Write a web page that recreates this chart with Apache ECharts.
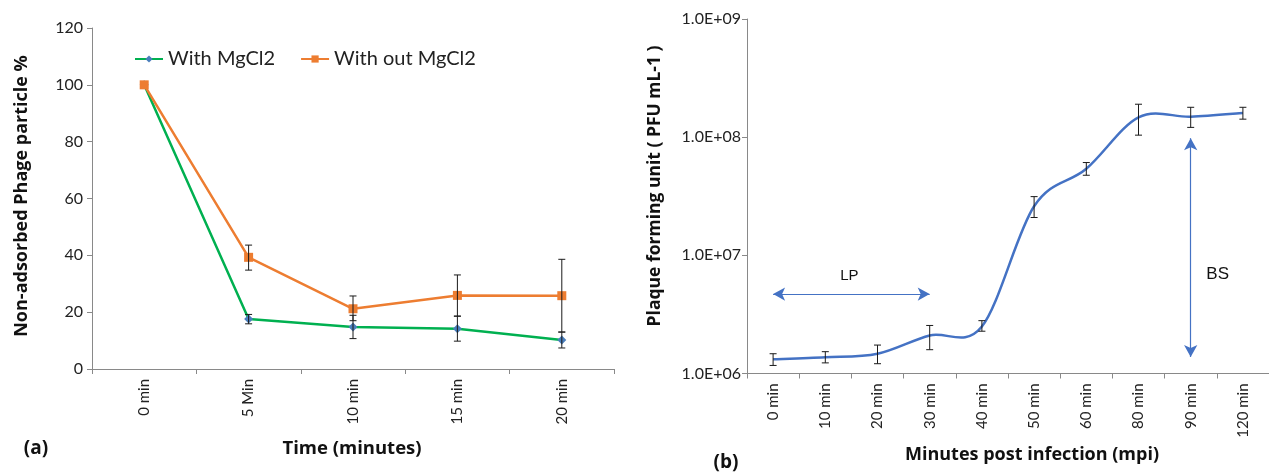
<!DOCTYPE html>
<html><head><meta charset="utf-8">
<script src="https://cdn.jsdelivr.net/npm/echarts@6/dist/echarts.min.js"></script>
<style>html,body{margin:0;padding:0;background:#fff}#c{width:1269px;height:475px}</style>
</head><body><div id="c"></div>
<script>
// Panel (a)
const categoriesA = ['0 min', '5 Min', '10 min', '15 min', '20 min'];
const withMg = [100, 17.6, 14.8, 14.2, 10.2];
const withMgLow = [null, 15.9, 10.7, 9.8, 7.4];
const withMgHigh = [null, 19.2, 18.9, 18.6, 13.0];
const withoutMg = [100, 39.3, 21.2, 25.9, 25.8];
const withoutMgLow = [null, 34.8, 17.0, 18.6, 13.0];
const withoutMgHigh = [null, 43.6, 25.7, 33.1, 38.6];
const yTicksA = [0, 20, 40, 60, 80, 100, 120];

// Panel (b)
const categoriesB = ['0 min', '10 min', '20 min', '30 min', '40 min', '50 min', '60 min', '80 min', '90 min', '120 min'];
const pfu = [1.32e6, 1.37e6, 1.47e6, 2.1e6, 2.5e6, 2.6e7, 5.4e7, 1.47e8, 1.49e8, 1.6e8];
const pfuLow = [1.17e6, 1.23e6, 1.21e6, 1.59e6, 2.28e6, 2.09e7, 4.76e7, 1.04e8, 1.21e8, 1.42e8];
const pfuHigh = [1.47e6, 1.53e6, 1.74e6, 2.55e6, 2.8e6, 3.14e7, 6.1e7, 1.9e8, 1.79e8, 1.79e8];
const lpArrow = [['0 min', 4.7e6], ['30 min', 4.7e6]];
const bsArrow = [['90 min', 9.8e7], ['90 min', 1.38e6]];

const FONT = 'Lato, "Open Sans", sans-serif';
const TFONT = '"Open Sans", "Noto Sans", sans-serif';
const AX = '#898989';

function errData(low, high) {
  const out = [];
  low.forEach((l, i) => { if (l != null && high[i] != null) out.push([i, l, high[i]]); });
  return out;
}
function errRender(params, api) {
  const x = api.value(0);
  const lo = api.coord([x, api.value(1)]);
  const hi = api.coord([x, api.value(2)]);
  const w = 3.5;
  const st = { stroke: '#1a1a1a', lineWidth: 1 };
  return { type: 'group', children: [
    { type: 'line', shape: { x1: hi[0], y1: hi[1], x2: lo[0], y2: lo[1] }, style: st },
    { type: 'line', shape: { x1: hi[0] - w, y1: hi[1], x2: hi[0] + w, y2: hi[1] }, style: st },
    { type: 'line', shape: { x1: lo[0] - w, y1: lo[1], x2: lo[0] + w, y2: lo[1] }, style: st }
  ]};
}
// Excel-like smoothed line (Catmull-Rom bezier through the data points)
function smoothRender(params, api) {
  if (params.dataIndex !== 0) return null;
  const pts = pfu.map((v, i) => api.coord([i, v]));
  let d = 'M' + pts[0][0] + ' ' + pts[0][1];
  for (let i = 0; i < pts.length - 1; i++) {
    const p0 = pts[Math.max(i - 1, 0)], p1 = pts[i], p2 = pts[i + 1], p3 = pts[Math.min(i + 2, pts.length - 1)];
    const c1 = [p1[0] + (p2[0] - p0[0]) / 6, p1[1] + (p2[1] - p0[1]) / 6];
    const c2 = [p2[0] - (p3[0] - p1[0]) / 6, p2[1] - (p3[1] - p1[1]) / 6];
    d += ' C' + c1[0] + ' ' + c1[1] + ' ' + c2[0] + ' ' + c2[1] + ' ' + p2[0] + ' ' + p2[1];
  }
  return { type: 'path', shape: { pathData: d }, style: { fill: 'none', stroke: '#4472C4', lineWidth: 2.5 } };
}
function sci(v) {
  const e = Math.round(Math.log10(v));
  const m = v / Math.pow(10, e);
  return m.toFixed(1) + 'E+' + (e < 10 ? '0' + e : e);
}

const chart = echarts.init(document.getElementById('c'), null, { renderer: 'canvas' });
chart.setOption({
  animation: false,
  textStyle: { fontFamily: FONT },
  legend: {
    left: 129, top: 44, itemGap: 25, itemWidth: 28, itemHeight: 9,
    textStyle: { fontFamily: FONT, fontSize: 20, color: '#222' },
    data: ['With MgCl2', 'With out MgCl2']
  },
  grid: [
    { left: 92, top: 28, width: 522, height: 341 },
    { left: 747, top: 19, right: -12, height: 354.5 }
  ],
  xAxis: [
    { type: 'category', gridIndex: 0, data: categoriesA,
      axisLine: { lineStyle: { color: AX } },
      axisTick: { show: true, length: 5, lineStyle: { color: AX } },
      axisLabel: { rotate: 90, fontSize: 15, color: '#222', margin: 10, fontFamily: FONT } },
    { type: 'category', gridIndex: 1, data: categoriesB,
      axisLine: { lineStyle: { color: AX } },
      axisTick: { show: true, length: 5, lineStyle: { color: AX } },
      axisLabel: { rotate: 90, fontSize: 15, color: '#222', margin: 10, fontFamily: FONT } }
  ],
  yAxis: [
    { type: 'value', gridIndex: 0, min: yTicksA[0], max: yTicksA[yTicksA.length - 1], interval: 20,
      splitLine: { show: false },
      axisLine: { show: true, lineStyle: { color: AX } },
      axisTick: { show: true, length: 5, lineStyle: { color: AX } },
      axisLabel: { fontSize: 16, color: '#222', margin: 9, fontFamily: FONT } },
    { type: 'log', gridIndex: 1, logBase: 10, min: 1e6, max: 1e9,
      splitLine: { show: false },
      axisLine: { show: true, lineStyle: { color: AX } },
      axisTick: { show: true, length: 5, lineStyle: { color: AX } },
      minorTick: { show: false },
      axisLabel: { fontSize: 16, color: '#222', margin: 6, fontFamily: FONT, formatter: sci } }
  ],
  graphic: [
    { type: 'text', x: 22, y: 196, rotation: Math.PI / 2, style: { text: 'Non-adsorbed Phage particle %', font: 'bold 18px ' + TFONT, fill: '#111', align: 'center', verticalAlign: 'middle' } },
    { type: 'text', x: 352, y: 449, style: { text: 'Time (minutes)', font: 'bold 18.5px ' + TFONT, fill: '#111', align: 'center', verticalAlign: 'middle' } },
    { type: 'text', x: 36, y: 449, style: { text: '(a)', font: 'bold 19px ' + TFONT, fill: '#111', align: 'center', verticalAlign: 'middle' } },
    { type: 'text', x: 655, y: 186, rotation: Math.PI / 2, style: { text: 'Plaque forming unit ( PFU mL-1 )', font: 'bold 17.5px ' + TFONT, fill: '#111', align: 'center', verticalAlign: 'middle' } },
    { type: 'text', x: 1032, y: 455, style: { text: 'Minutes post infection (mpi)', font: 'bold 18px ' + TFONT, fill: '#111', align: 'center', verticalAlign: 'middle' } },
    { type: 'text', x: 726, y: 463, style: { text: '(b)', font: 'bold 19px ' + TFONT, fill: '#111', align: 'center', verticalAlign: 'middle' } }
  ],
  series: [
    { name: 'With MgCl2', type: 'line', xAxisIndex: 0, yAxisIndex: 0, data: withMg,
      symbol: 'diamond', symbolSize: 9, z: 3,
      lineStyle: { color: '#00B050', width: 2.5 }, itemStyle: { color: '#4A7EBB' } },
    { name: 'With out MgCl2', type: 'line', xAxisIndex: 0, yAxisIndex: 0, data: withoutMg,
      symbol: 'rect', symbolSize: 9, z: 3,
      lineStyle: { color: '#ED7D31', width: 2.5 }, itemStyle: { color: '#ED7D31' } },
    { type: 'custom', xAxisIndex: 0, yAxisIndex: 0, renderItem: errRender, data: errData(withMgLow, withMgHigh), z: 4 },
    { type: 'custom', xAxisIndex: 0, yAxisIndex: 0, renderItem: errRender, data: errData(withoutMgLow, withoutMgHigh), z: 4 },
    { type: 'custom', xAxisIndex: 1, yAxisIndex: 1, renderItem: smoothRender, data: pfu.map((v, i) => [i, v]), z: 3,
      markLine: {
        silent: true, symbol: ['arrow', 'arrow'], symbolSize: [10, 12],
        lineStyle: { color: '#4472C4', width: 1.2, type: 'solid' },
        label: { show: false },
        data: [
          [{ coord: lpArrow[0] }, { coord: lpArrow[1] }],
          [{ coord: bsArrow[0] }, { coord: bsArrow[1] }]
        ]
      },
      markPoint: {
        silent: true, symbol: 'circle', symbolSize: 0,
        label: { show: true, color: '#111', fontFamily: '"Liberation Sans", Arial, sans-serif' },
        data: [
          { coord: ['10 min', 6.7e6], value: 'LP', label: { formatter: 'LP', fontSize: 15, offset: [24, 0] } },
          { coord: ['90 min', 6.7e6], value: 'BS', label: { formatter: 'BS', fontSize: 17, offset: [27, -2] } }
        ]
      } },
    { type: 'custom', xAxisIndex: 1, yAxisIndex: 1, renderItem: errRender, data: errData(pfuLow, pfuHigh), z: 4 }
  ]
});
</script></body></html>
